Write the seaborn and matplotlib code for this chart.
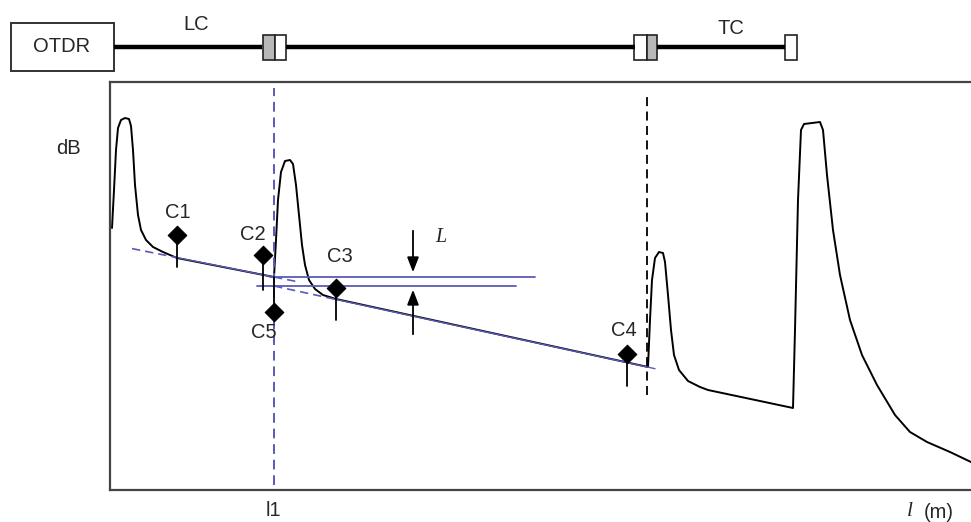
import seaborn as sns
import matplotlib.pyplot as plt
import pandas as pd
from matplotlib.patches import Rectangle

# OTDR trace (distance, level) in arbitrary units
trace_x = [2, 4, 6, 8, 11, 15, 19, 21, 23, 25, 28, 31, 36, 43, 53, 67,
           164, 166, 168, 171, 175, 180, 183, 186, 189, 192, 195, 199, 205, 213, 226,
           538, 540, 542, 545, 549, 553, 555, 558, 561, 564, 569, 578, 590, 598, 683,
           685, 688, 691, 694, 702, 710, 713, 717, 723, 730, 740, 752, 767, 785, 800,
           817, 840, 861]
trace_y = [262, 300, 340, 362, 370, 372, 371, 364, 340, 305, 275, 260, 250, 243, 238, 232,
           213, 250, 290, 318, 329, 330, 326, 305, 275, 245, 225, 210, 201, 195, 191,
           123, 170, 210, 232, 238, 237, 228, 195, 160, 135, 120, 109, 103, 100, 82,
           160, 290, 360, 366, 367, 368, 360, 315, 260, 215, 170, 135, 105, 75, 58,
           48, 38, 28]

# fitted backscatter lines (slope, value at l1)
l1 = 164
line1_y0, line1_slope = 213, -0.2
line2_y0, line2_slope = 204, -0.217
line1_dash = [(22, 67), (164, 190)]
line1_solid = (67, 164)
line2_dash = [(164, 226)]
line2_solid = (226, 545)
level_hi = (213, 160, 425)
level_lo = (204, 147, 406)
event2_x = 537

# cursors C1..C5
cursor_names = ["C1", "C2", "C5", "C3", "C4"]
cursor_x = [67, 153, 164, 226, 517]
cursor_y = [255, 235, 178, 202, 136]
stem_end = [223, 200, 213, 170, 104]
label_xy = [(68, 278), (143, 256), (154, 157), (230, 233), (514, 160)]

blue = "#5a5ab8"
fs = 14.5

sns.set_style("white")
plt.rcParams["font.family"] = ["Liberation Sans", "DejaVu Sans"]

fig = plt.figure(figsize=(9.71, 5.22), dpi=100)
ax = fig.add_axes([110 / 971, 32 / 522, 861 / 971, 408 / 522])
ax.set_xlim(0, 861)
ax.set_ylim(0, 408)
ax.set_xticks([])
ax.set_yticks([])
ax.spines["right"].set_visible(False)
for s in ["left", "top", "bottom"]:
    ax.spines[s].set_color("#444444")
    ax.spines[s].set_linewidth(1.6)

df = pd.DataFrame({"x": trace_x, "y": trace_y})
sns.lineplot(data=df, x="x", y="y", sort=False, color="black", lw=1.4, ax=ax)


def line_y(x0, y0, slope, x):
    return y0 + slope * (x - x0)


for a, b in line1_dash:
    ax.plot([a, b], [line_y(l1, line1_y0, line1_slope, a), line_y(l1, line1_y0, line1_slope, b)],
            color=blue, lw=1.2, ls=(0, (5, 3)))
ax.plot(line1_solid, [line_y(l1, line1_y0, line1_slope, v) for v in line1_solid], color=blue, lw=1.0)
for a, b in line2_dash:
    ax.plot([a, b], [line_y(l1, line2_y0, line2_slope, a), line_y(l1, line2_y0, line2_slope, b)],
            color=blue, lw=1.2, ls=(0, (5, 3)))
ax.plot(line2_solid, [line_y(l1, line2_y0, line2_slope, v) for v in line2_solid], color=blue, lw=1.0)

ax.plot([level_hi[1], level_hi[2]], [level_hi[0]] * 2, color=blue, lw=1.3)
ax.plot([level_lo[1], level_lo[2]], [level_lo[0]] * 2, color=blue, lw=1.3)

ax.plot([l1, l1], [5, 402], color=blue, lw=1.4, ls=(0, (5, 3)))
ax.plot([event2_x, event2_x], [95, 398], color="black", lw=1.3, ls=(0, (5, 3)))

for i in range(len(cursor_x)):
    ax.plot([cursor_x[i], cursor_x[i]], [cursor_y[i], stem_end[i]], color="black", lw=1.3)
cur = pd.DataFrame({"x": cursor_x, "y": cursor_y})
sns.scatterplot(data=cur, x="x", y="y", marker="D", s=90, color="black", edgecolor="black", ax=ax, zorder=5)
for name, (tx, ty) in zip(cursor_names, label_xy):
    ax.text(tx, ty, name, fontsize=fs, ha="center", va="center")

# loss arrows
ax.annotate("", xy=(303, 215), xytext=(303, 262),
            arrowprops=dict(arrowstyle="-|>,head_width=0.35,head_length=0.9", color="black", lw=1.3))
ax.annotate("", xy=(303, 203), xytext=(303, 153),
            arrowprops=dict(arrowstyle="-|>,head_width=0.35,head_length=0.9", color="black", lw=1.3))
ax.text(325, 253, "L", fontsize=fs, family="Liberation Serif", style="italic", va="center")

ax.set_xlabel("")
ax.set_ylabel("")
ax.text(-42, 342, "dB", fontsize=fs, ha="center", va="center", clip_on=False)
ax.text(163, -21, "l1", fontsize=fs, ha="center", va="center", clip_on=False)
ax.text(797, -22, "l", fontsize=fs + 1, family="Liberation Serif", style="italic", va="center", clip_on=False)
ax.text(814, -22, "(m)", fontsize=fs, va="center", clip_on=False)

# schematic of the link
top = fig.add_axes([0, 442 / 522, 1, 80 / 522])
top.set_xlim(0, 971)
top.set_ylim(80, 0)
top.axis("off")
top.add_patch(Rectangle((11, 23), 103, 48, fill=False, ec="#333333", lw=1.4))
top.text(62, 47, "OTDR", fontsize=fs, ha="center", va="center")
top.plot([114, 262], [46.5, 46.5], color="black", lw=3.2, solid_capstyle="butt")
top.plot([286, 635], [46.5, 46.5], color="black", lw=3.2, solid_capstyle="butt")
top.plot([657, 785], [46.5, 46.5], color="black", lw=3.2, solid_capstyle="butt")
top.add_patch(Rectangle((263, 35), 12, 25, fc="#b8b8b8", ec="#222222", lw=1.2))
top.add_patch(Rectangle((275, 35), 11, 25, fc="white", ec="#222222", lw=1.2))
top.add_patch(Rectangle((634, 35), 13, 25, fc="white", ec="#222222", lw=1.2))
top.add_patch(Rectangle((647, 35), 10, 25, fc="#b8b8b8", ec="#222222", lw=1.2))
top.add_patch(Rectangle((785, 35), 12, 25, fc="white", ec="#222222", lw=1.2))
top.text(196, 25, "LC", fontsize=fs, ha="center", va="center")
top.text(731, 28, "TC", fontsize=fs, ha="center", va="center")

fig.savefig("out.png", dpi=100)
